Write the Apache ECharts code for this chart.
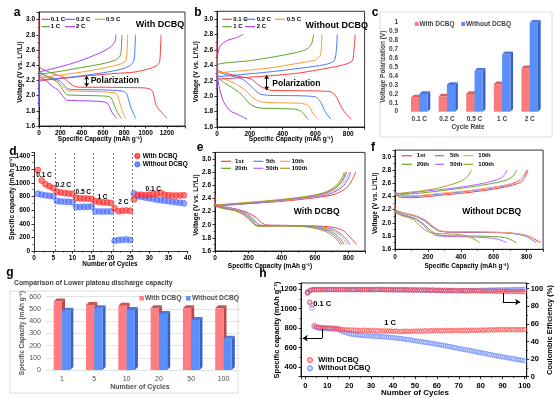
<!DOCTYPE html>
<html><head><meta charset="utf-8">
<script src="https://cdn.jsdelivr.net/npm/echarts@6/dist/echarts.min.js"></script>
<style>html,body{margin:0;padding:0;background:#fff}#c{width:554px;height:398px}</style>
</head><body><div id="c"></div><script>
// ---------- DATA ----------
const rateNames = ['0.1 C','0.2 C','0.5 C','1 C','2 C'];
const cycNames = ['1st','5th','10th','20th','50th','100th'];
// panel a (With DCBQ) discharge / charge  [capacity, voltage]
const aDis01 = [[0,3.0],[3,2.45],[10,2.37],[60,2.33],[150,2.28],[220,2.25],[260,2.2],[300,2.15],[340,2.12],[400,2.11],[600,2.11],[850,2.105],[1000,2.1],[1050,2.08],[1070,2.04],[1085,1.95],[1100,1.87],[1130,1.81],[1170,1.75],[1200,1.7]];
const aDis02 = [[0,2.3],[50,2.27],[150,2.22],[200,2.19],[240,2.13],[270,2.09],[320,2.08],[600,2.075],[780,2.06],[820,2.03],[840,1.95],[860,1.85],[885,1.77],[906,1.7]];
const aDis05 = [[0,2.27],[60,2.24],[150,2.2],[200,2.16],[240,2.1],[270,2.065],[320,2.06],[600,2.05],[720,2.03],[745,1.97],[765,1.87],[790,1.77],[815,1.7]];
const aDis1 = [[0,2.33],[50,2.27],[150,2.2],[190,2.15],[230,2.06],[265,2.01],[320,2.005],[600,1.995],[670,1.98],[695,1.92],[715,1.84],[745,1.76],[775,1.7]];
const aDis2 = [[0,2.26],[60,2.2],[130,2.12],[180,2.07],[220,2.0],[260,1.94],[320,1.935],[550,1.925],[630,1.91],[660,1.86],[685,1.78],[710,1.73],[734,1.7]];
const aChg01 = [[0,2.19],[100,2.21],[250,2.23],[450,2.26],[700,2.29],[900,2.31],[1050,2.36],[1110,2.4],[1132,2.45],[1140,2.6],[1145,2.8]];
const aChg02 = [[0,1.85],[3,2.2],[50,2.21],[200,2.23],[400,2.26],[600,2.3],[780,2.35],[860,2.4],[890,2.46],[900,2.6],[905,2.8]];
const aChg05 = [[0,2.22],[50,2.24],[200,2.27],[400,2.31],[600,2.36],[750,2.41],[810,2.45],[825,2.55],[832,2.8]];
const aChg1 = [[0,2.28],[50,2.29],[200,2.32],[400,2.37],[600,2.42],[720,2.47],[760,2.52],[772,2.6],[778,2.8]];
const aChg2 = [[0,1.85],[3,2.3],[60,2.33],[200,2.38],[350,2.44],[500,2.52],[600,2.58],[680,2.65],[715,2.72],[722,2.8]];
// panel b (Without DCBQ)
const bDis01 = [[0,2.7],[3,2.35],[50,2.3],[150,2.25],[210,2.22],[250,2.15],[290,2.1],[330,2.075],[500,2.07],[650,2.065],[700,2.05],[730,1.98],[760,1.85],[790,1.76],[817,1.7]];
const bDis02 = [[0,2.32],[50,2.28],[130,2.24],[170,2.2],[220,2.1],[260,2.03],[320,2.01],[500,2.005],[600,1.99],[630,1.93],[660,1.8],[680,1.74],[696,1.7]];
const bDis05 = [[0,2.28],[50,2.22],[120,2.15],[170,2.08],[220,1.98],[260,1.93],[350,1.915],[520,1.905],[560,1.87],[585,1.78],[614,1.7]];
const bDis1 = [[0,2.25],[40,2.18],[100,2.1],[150,2.02],[200,1.9],[250,1.85],[350,1.84],[480,1.83],[515,1.8],[540,1.74],[557,1.7]];
const bDis2 = [[0,2.3],[15,2.1],[40,1.93],[80,1.81],[130,1.76],[184,1.7]];
const bChg01 = [[0,2.22],[150,2.24],[300,2.26],[500,2.3],[665,2.36],[780,2.41],[825,2.46],[835,2.6],[843,2.8]];
const bChg02 = [[0,2.25],[100,2.27],[300,2.31],[500,2.36],[660,2.41],[715,2.46],[728,2.6],[733,2.8]];
const bChg05 = [[0,2.3],[100,2.32],[300,2.36],[450,2.41],[600,2.47],[630,2.53],[637,2.65],[640,2.8]];
const bChg1 = [[0,2.1],[3,2.4],[50,2.43],[200,2.46],[400,2.53],[540,2.6],[575,2.67],[585,2.75],[590,2.8]];
const bChg2 = [[0,2.1],[5,2.55],[20,2.65],[60,2.72],[120,2.76],[160,2.8]];
// panel c
const cCats = ['0.1 C','0.2 C','0.5 C','1 C','2 C'];
const cWith = [0.16,0.17,0.20,0.31,0.49];
const cWithout = [0.20,0.30,0.46,0.645,1.0];
// panel d
const dCycles = [1,2,3,4,5,6,7,8,9,10,11,12,13,14,15,16,17,18,19,20,21,22,23,24,25,26,27,28,29,30,31,32,33,34,35,36,37,38,39];
const dWith = [1190,1035,980,950,925,870,860,850,845,840,780,775,770,770,765,730,720,715,712,705,625,585,592,595,590,760,825,825,820,825,835,840,850,825,820,815,815,815,818];
const dWithout = [840,828,818,810,805,735,728,725,722,718,645,646,648,650,652,582,580,580,580,580,150,160,165,168,162,845,805,795,785,775,765,752,745,740,732,722,715,708,700];
// panel e (With DCBQ)
const eDis1 = [[0,2.45],[2,2.32],[40,2.28],[120,2.24],[190,2.19],[240,2.12],[280,2.03],[310,1.995],[400,1.99],[550,1.985],[650,1.975],[720,1.955],[770,1.91],[800,1.84],[825,1.77],[850,1.7]];
const eDis5 = [[0,2.31],[40,2.28],[120,2.24],[180,2.19],[225,2.1],[255,2.02],[280,1.99],[400,1.99],[550,1.98],[640,1.965],[710,1.93],[760,1.85],[790,1.77],[810,1.7]];
const eDis10 = [[0,2.3],[40,2.27],[120,2.23],[180,2.18],[222,2.09],[250,2.01],[275,1.985],[400,1.988],[550,1.978],[630,1.96],[700,1.92],[750,1.84],[775,1.77],[794,1.7]];
const eDis20 = [[0,2.29],[40,2.26],[120,2.22],[175,2.17],[218,2.08],[245,2.0],[270,1.98],[400,1.985],[550,1.975],[620,1.955],[690,1.91],[735,1.83],[760,1.76],[775,1.7]];
const eDis50 = [[0,2.29],[40,2.26],[120,2.22],[175,2.16],[215,2.07],[242,1.995],[268,1.978],[400,1.983],[540,1.972],[610,1.95],[680,1.9],[725,1.82],[748,1.76],[762,1.7]];
const eDis100 = [[0,2.28],[40,2.25],[120,2.21],[170,2.15],[212,2.06],[240,1.99],[265,1.975],[400,1.98],[530,1.97],[600,1.945],[670,1.89],[715,1.81],[738,1.75],[752,1.7]];
const eChg1 = [[0,2.28],[100,2.3],[250,2.33],[420,2.36],[600,2.41],[700,2.45],[760,2.51],[800,2.59],[825,2.69],[844,2.8]];
const eChg5 = [[0,2.29],[100,2.31],[250,2.33],[420,2.37],[590,2.42],[680,2.46],[740,2.53],[780,2.62],[802,2.71],[815,2.8]];
const eChg10 = [[0,2.29],[100,2.31],[250,2.34],[420,2.37],[585,2.42],[675,2.47],[732,2.54],[770,2.63],[792,2.72],[805,2.8]];
const eChg20 = [[0,2.3],[100,2.31],[250,2.34],[420,2.38],[575,2.43],[660,2.48],[715,2.55],[752,2.64],[772,2.72],[784,2.8]];
const eChg50 = [[0,2.3],[100,2.31],[250,2.34],[420,2.38],[580,2.43],[665,2.48],[720,2.55],[758,2.64],[778,2.72],[790,2.8]];
const eChg100 = [[0,2.3],[100,2.32],[250,2.35],[420,2.39],[570,2.44],[655,2.49],[708,2.56],[745,2.65],[765,2.73],[776,2.8]];
// panel f (Without DCBQ)
const fDis1 = [[0,2.3],[2,2.2],[40,2.16],[120,2.11],[180,2.04],[230,1.94],[270,1.88],[320,1.86],[500,1.855],[700,1.845],[780,1.82],[830,1.78],[865,1.73],[887,1.7]];
const fDis5 = [[0,2.18],[40,2.15],[120,2.1],[180,2.03],[230,1.93],[270,1.875],[320,1.865],[500,1.86],[680,1.85],[760,1.82],[810,1.78],[840,1.73],[857,1.7]];
const fDis10 = [[0,2.2],[40,2.16],[120,2.11],[180,2.05],[230,1.95],[270,1.885],[320,1.87],[500,1.865],[700,1.85],[780,1.82],[830,1.78],[855,1.73],[871,1.7]];
const fDis20 = [[0,2.17],[40,2.13],[120,2.07],[170,1.99],[220,1.88],[260,1.82],[320,1.805],[500,1.8],[620,1.79],[680,1.77],[715,1.73],[739,1.7]];
const fDis50 = [[0,2.16],[40,2.12],[120,2.06],[165,1.98],[210,1.87],[250,1.81],[320,1.795],[480,1.785],[580,1.77],[630,1.75],[660,1.72],[678,1.7]];
const fDis100 = [[0,2.15],[40,2.11],[110,2.05],[150,1.96],[190,1.88],[230,1.845],[300,1.835],[400,1.82],[450,1.79],[490,1.74],[516,1.7]];
const fChg1 = [[0,2.43],[30,2.39],[100,2.38],[250,2.41],[450,2.46],[600,2.51],[700,2.56],[760,2.61],[790,2.69],[808,2.8]];
const fChg5 = [[0,2.44],[30,2.41],[100,2.4],[250,2.43],[450,2.48],[600,2.53],[700,2.58],[755,2.64],[782,2.71],[800,2.8]];
const fChg10 = [[0,2.44],[30,2.41],[100,2.41],[250,2.44],[450,2.49],[600,2.54],[700,2.59],[760,2.65],[788,2.72],[805,2.8]];
const fChg20 = [[0,2.45],[40,2.43],[150,2.45],[300,2.49],[450,2.54],[600,2.6],[680,2.65],[718,2.71],[740,2.8]];
const fChg50 = [[0,2.46],[40,2.44],[150,2.47],[300,2.51],[450,2.56],[560,2.61],[630,2.66],[664,2.72],[682,2.8]];
const fChg100 = [[0,2.43],[40,2.45],[150,2.48],[250,2.52],[330,2.57],[400,2.63],[440,2.7],[466,2.8]];
// panel g
const gCats = ['1','5','10','20','50','100'];
const gWith = [560,533,525,506,506,505];
const gWithout = [484,506,492,459,410,256];
// panel h (cycles 1..100)
const hCapWith = [1165,1070,1040,830,815,810,808,805,805,803,802,800,800,798,795,
 788,785,783,782,780,782,778,780,776,778,775,780,776,774,778,
 772,775,770,774,770,772,768,772,770,766,
 770,768,764,768,766,770,765,768,766,770,
 768,772,767,770,774,770,772,776,771,774,
 776,772,775,778,774,776,773,777,775,778,
 774,776,779,775,778,780,776,779,777,781,
 778,782,779,781,784,780,783,785,782,786,
 783,786,782,785,783,786,782,785,783,786];
const hCapWithout = [1170,1060,1005,815,805,800,798,797,795,794,793,792,790,789,786,
 775,765,758,750,742,738,735,733,730,728,726,724,722,721,719,
 718,716,715,713,712,710,708,706,705,702,
 700,697,694,691,688,685,682,678,675,670,
 667,664,660,657,653,650,646,642,638,634,
 630,626,622,618,614,610,605,600,596,591,
 587,582,578,574,570,565,561,556,551,547,
 543,538,534,529,525,520,516,512,508,504,
 500,496,492,488,484,480,476,472,469,465];
const hCEWith = [95,97.5,98.5,99,98.8,99,98.7,99.1,98.9,99,
 98.8,99.1,98.9,99,98.7,99,98.8,99.1,98.6,99,
 98.8,99,98.7,99.1,98.9,98.6,99,98.8,99.1,98.7,
 99,98.6,98.9,99.1,98.7,98.9,98.5,99,98.8,98.6,
 98.9,98.7,98.4,98.9,98.6,98.8,98.5,98.9,98.3,98.7,
 98.5,98.8,98.2,98.6,98.4,98.7,98.1,98.5,98.3,97.9,
 98.4,98.1,97.8,98.3,97.9,98.2,97.7,98.1,97.8,97.5,
 98,97.6,97.9,97.4,97.8,97.3,97.7,97.5,97.2,97.6,
 97.3,97.1,97.5,97.2,96.9,97.4,97,96.8,97.2,96.9,
 96.7,97.1,96.8,96.5,96.9,96.6,96.8,96.4,96.7,96.5];
const hCEWithout = [96,98,98.7,98.9,99,98.8,99.1,98.9,99,98.8,
 99,98.9,99.1,98.8,99,98.9,99.1,98.8,99,98.9,
 99,98.8,99.1,98.9,99,98.7,99.2,98.9,99,98.8,
 99.1,98.8,99.2,98.9,99.3,98.8,99,98.7,98.9,98.6,
 98.8,98.5,98.9,98.6,98.4,98.7,98.3,98.6,98.2,98.5,
 98.1,98.4,98,98.3,97.9,98.2,97.8,98.1,97.7,98,
 97.6,97.9,97.5,97.8,97.4,97.7,97.5,97.8,97.4,97.7,
 97.5,97.8,97.6,97.9,97.7,98,97.8,98.1,97.9,98.2,
 98,98.3,98.1,98.4,98.2,98.5,98.4,98.6,98.5,98.7,
 98.6,98.8,98.7,98.9,98.8,99,98.9,99.1,99,99.2];

// ---------- STYLE ----------
const FF = '"Liberation Sans", Arial, sans-serif';
const RED='#ff3b3b', BLUE='#4a78ff', ORANGE='#ff9933', GREEN='#5fa22d', PURPLE='#a33dff';
const rateColors = [RED,BLUE,ORANGE,GREEN,PURPLE];
const cycColors = [RED,'#5b7cff','#ffa066','#6aa52a','#b366ff','#a6a022'];
const plain = v => String(Math.round(v*1000)/1000);

function vAxis(g, min, max, interval, extra) {
  return Object.assign({
    type:'value', gridIndex:g, min:min, max:max, interval:interval,
    axisLine:{show:true, onZero:false, lineStyle:{color:'#000', width:0.8}},
    axisTick:{show:true, inside:false, length:2.5, lineStyle:{color:'#000', width:0.8}},
    minorTick:{show:true, splitNumber:2, length:1.5, lineStyle:{color:'#000', width:0.6}},
    splitLine:{show:false},
    axisLabel:{fontSize:6.5, fontWeight:'bold', color:'#000', margin:4, fontFamily:FF, showMaxLabel:false, formatter:plain}
  }, extra || {});
}
const volt = {axisLabel:{fontSize:6.5, fontWeight:'bold', color:'#000', margin:4, fontFamily:FF, showMaxLabel:false, formatter:v=>v.toFixed(1)}};

function curve(data, color, g) {
  return {type:'line', xAxisIndex:g, yAxisIndex:g, data:data, symbol:'none', smooth:0.25,
    lineStyle:{color:color, width:1}, silent:true, animation:false, z:3};
}

function bar3d(left, front, side, top, wRatio, depth) {
  return function(params, api) {
    const cat = api.value(0), v = api.value(1);
    const t = api.coord([cat, v]), b = api.coord([cat, 0]);
    const fw = api.size([1,0])[0] * wRatio;
    const x1 = left ? t[0]-fw : t[0], x2 = left ? t[0] : t[0]+fw;
    const yT = t[1], yB = b[1];
    return {type:'group', children:[
      {type:'polygon', shape:{points:[[x2,yT],[x2+depth,yT-depth],[x2+depth,yB-depth],[x2,yB]]}, style:{fill:side}},
      {type:'polygon', shape:{points:[[x1,yT],[x1+depth,yT-depth],[x2+depth,yT-depth],[x2,yT]]}, style:{fill:top}},
      {type:'rect', shape:{x:x1, y:yT, width:x2-x1, height:yB-yT}, style:{fill:front}}
    ]};
  };
}

function txt(x, y, s, size, o) {
  o = o || {};
  return {type:'text', x:x, y:y, rotation:o.rot||0, silent:true, z:10,
    style:{text:s, font:(o.w||'bold')+' '+size+'px '+FF, fill:o.c||'#000', align:o.a||'center', verticalAlign:'middle'}};
}
function seg(x1, x2, y, c) { return {type:'line', silent:true, z:10, shape:{x1:x1, y1:y, x2:x2, y2:y}, style:{stroke:c, lineWidth:1.2}}; }
function sq(x, y, s, c) { return {type:'rect', silent:true, z:10, shape:{x:x-s/2, y:y-s/2, width:s, height:s}, style:{fill:c}}; }
function circ(x, y, r, f, s) { return {type:'circle', silent:true, z:10, shape:{cx:x, cy:y, r:r}, style:{fill:f, stroke:s, lineWidth:0.8}}; }

const ROT = Math.PI/2;
const graphics = [
  txt(17,13,'a',12), txt(198,13,'b',12), txt(375,13,'c',12), txt(13,152,'d',12),
  txt(200,148,'e',12), txt(373,148,'f',12), txt(10,273,'g',12), txt(263,274,'h',12),
  {type:'rect', silent:true, shape:{x:380, y:12, width:172, height:125}, style:{fill:'none', stroke:'#d6d6d6', lineWidth:0.8}},
  {type:'rect', silent:true, shape:{x:10, y:291, width:228, height:102}, style:{fill:'none', stroke:'#d6d6d6', lineWidth:0.8}},
  txt(20.7,72,'Voltage (V vs. Li\u207a/Li)',6.5,{rot:ROT}),
  txt(100,139.5,'Specific Capacity (mAh g\u207b\u00b9)',6.5),
  txt(160,25,'With DCBQ',9),
  txt(90.7,81,'Polarization',8.5,{a:'left'}),
  txt(196.7,71.7,'Voltage (V vs. Li\u207a/Li)',6.5,{rot:ROT}),
  txt(291,139.5,'Specific Capacity (mAh g\u207b\u00b9)',6.5),
  txt(336.7,26,'Without DCBQ',9),
  txt(272.3,83.3,'Polarization',8.5,{a:'left'}),
  txt(383,66.7,'Voltage Polarization (V)',6.5,{rot:ROT,c:'#404040'}),
  txt(468,127,'Cycle Rate',6.5,{c:'#404040'}),
  sq(416.7,24,4,'#ff7b7b'), txt(419.5,24,'With DCBQ',6.5,{a:'left',c:'#404040'}),
  sq(463.3,24,4,'#5b8ff9'), txt(466,24,'Without DCBQ',6.5,{a:'left',c:'#404040'}),
  txt(12,198.3,'Specific capacity (mAh g\u207b\u00b9)',6.5,{rot:ROT}),
  txt(110,264.7,'Number of Cycles',6.5),
  circ(137.3,156,2.6,'rgba(255,60,60,0.85)','#ff2020'), txt(142.7,156,'With DCBQ',6.5,{a:'left'}),
  circ(137.3,164.3,2.6,'rgba(80,110,255,0.8)','#3f66ff'), txt(142.7,164.3,'Without DCBQ',6.5,{a:'left'}),
  txt(44,175.7,'0.1 C',6.5), txt(63.3,185,'0.2 C',6.5), txt(83.3,192.3,'0.5 C',6.5),
  txt(102.5,197.3,'1 C',6.5), txt(123.3,202,'2 C',6.5), txt(153.3,189.3,'0.1 C',6.5),
  txt(196.7,205,'Voltage (V vs. Li\u207a/Li)',6.5,{rot:ROT}),
  txt(270,266,'Specific Capacity (mAh g\u207b\u00b9)',6.5),
  txt(316.7,211.7,'With DCBQ',8.5),
  txt(375,203.3,'Voltage (V vs. Li\u207a/Li)',6.5,{rot:ROT}),
  txt(466.7,266,'Specific Capacity (mAh g\u207b\u00b9)',6.5),
  txt(491.7,211.7,'Without DCBQ',8.5),
  txt(14,283.3,'Comparison of Lower plateau discharge capacity',6.8,{a:'left',c:'#404040'}),
  txt(22.5,333,'Specific Capacity (mAh g\u207b\u00b9)',6.5,{rot:ROT,c:'#505050'}),
  txt(140,386.7,'Number of Cycles',7,{c:'#505050'}),
  sq(141.7,298.3,4.5,'#ff7c80'), txt(145,298.3,'With DCBQ',6.8,{a:'left',c:'#505050'}),
  sq(188.3,298.3,4.5,'#5b8ff9'), txt(192,298.3,'Without DCBQ',6.8,{a:'left',c:'#505050'}),
  txt(276.7,330,'Specific capacity (mAh g\u207b\u00b9)',7.5,{rot:ROT}),
  txt(550,330,'Coulombic Efficiency (%)',7.5,{rot:ROT}),
  txt(415,393,'Number of Cycles',8),
  txt(313.3,304,'0.1 C',7.5,{a:'left'}), txt(390,323.3,'1 C',7.5),
  circ(310,360,2.5,'rgba(255,60,60,0.35)','#ff3030'), txt(318.3,360,'With DCBQ',7.5,{a:'left'}),
  circ(310,368.3,2.5,'rgba(80,110,255,0.3)','#4a6cff'), txt(318.3,368.3,'Without DCBQ',7.5,{a:'left'})
];
[[41.7,50,50.7,19.3],[65,75,76,19.3],[95,105,106,19.3],[41.7,50,50.7,26.7],[65,75,76,26.7]].forEach((p,i)=>{
  graphics.push(seg(p[0],p[1],p[3],rateColors[i]), txt(p[2],p[3],rateNames[i],6,{a:'left'}));
});
[[222.3,231.7,233.3,19.3],[245,255,256.7,19.3],[275,285,286.7,19.3],[222.3,231.7,233.3,26.7],[245,255,256.7,26.7]].forEach((p,i)=>{
  graphics.push(seg(p[0],p[1],p[3],rateColors[i]), txt(p[2],p[3],rateNames[i],6,{a:'left'}));
});
[[221,231,235,161.3],[253.3,263.3,266,161.3],[280,290,291.7,161.3],[221,231,235,168.3],[253.3,263.3,266,168.3],[280,290,291.7,168.3]].forEach((p,i)=>{
  graphics.push(seg(p[0],p[1],p[3],cycColors[i]), txt(p[2],p[3],cycNames[i],6,{a:'left'}));
});
[[401.7,411.7,416.7,155.7],[435,444,450,155.7],[463.3,473.3,478.3,155.7],[401.7,411.7,416.7,164.3],[435,444,450,164.3],[463.3,473.3,478.3,164.3]].forEach((p,i)=>{
  graphics.push(seg(p[0],p[1],p[3],cycColors[i]), txt(p[2],p[3],cycNames[i],6,{a:'left'}));
});

// ---------- SERIES ----------
const series = [];
[aDis01,aDis02,aDis05,aDis1,aDis2].forEach((d,i)=>series.push(curve(d, rateColors[i], 0)));
[aChg01,aChg02,aChg05,aChg1,aChg2].forEach((d,i)=>series.push(curve(d, rateColors[i], 0)));
[bDis01,bDis02,bDis05,bDis1,bDis2].forEach((d,i)=>series.push(curve(d, rateColors[i], 1)));
[bChg01,bChg02,bChg05,bChg1,bChg2].forEach((d,i)=>series.push(curve(d, rateColors[i], 1)));
[eDis1,eDis5,eDis10,eDis20,eDis50,eDis100].forEach((d,i)=>series.push(curve(d, cycColors[i], 4)));
[eChg1,eChg5,eChg10,eChg20,eChg50,eChg100].forEach((d,i)=>series.push(curve(d, cycColors[i], 4)));
[fDis1,fDis5,fDis10,fDis20,fDis50,fDis100].forEach((d,i)=>series.push(curve(d, cycColors[i], 5)));
[fChg1,fChg5,fChg10,fChg20,fChg50,fChg100].forEach((d,i)=>series.push(curve(d, cycColors[i], 5)));
series.push({type:'lines', coordinateSystem:'cartesian2d', xAxisIndex:0, yAxisIndex:0, symbol:['arrow','arrow'], symbolSize:4, silent:true, z:5,
  lineStyle:{color:'#000', width:1, opacity:1}, data:[{coords:[[447,2.262],[447,2.118]]}]});
series.push({type:'lines', coordinateSystem:'cartesian2d', xAxisIndex:1, yAxisIndex:1, symbol:['arrow','arrow'], symbolSize:4, silent:true, z:5,
  lineStyle:{color:'#000', width:1, opacity:1}, data:[{coords:[[303,2.272],[303,2.078]]}]});
series.push({type:'custom', xAxisIndex:2, yAxisIndex:2, silent:true, renderItem:bar3d(true,'#f97a7a','#c95454','#d96060',0.3,2.7), data:cWith.map((v,i)=>[i,v])});
series.push({type:'custom', xAxisIndex:2, yAxisIndex:2, silent:true, renderItem:bar3d(false,'#5b8ff9','#3a62c4','#4a78e0',0.3,2.7), data:cWithout.map((v,i)=>[i,v])});
series.push({type:'scatter', xAxisIndex:3, yAxisIndex:3, symbolSize:6, silent:true,
  itemStyle:{color:'rgba(80,110,255,0.75)', borderColor:'#3f66ff', borderWidth:0.7},
  data:dCycles.map((c,i)=>[c,dWithout[i]]),
  markLine:{silent:true, symbol:'none', label:{show:false}, lineStyle:{color:'#444', type:[2,2], width:0.7},
    data:[{xAxis:5.5},{xAxis:10.5},{xAxis:15.5},{xAxis:20.5},{xAxis:25.5}]}});
series.push({type:'scatter', xAxisIndex:3, yAxisIndex:3, symbolSize:6, silent:true,
  itemStyle:{color:'rgba(255,60,60,0.8)', borderColor:'#ff2020', borderWidth:0.7},
  data:dCycles.map((c,i)=>[c,dWith[i]])});
series.push({type:'custom', xAxisIndex:6, yAxisIndex:6, silent:true, renderItem:bar3d(true,'#ff7c80','#b84a4a','#c25558',0.257,3), data:gWith.map((v,i)=>[i,v])});
series.push({type:'custom', xAxisIndex:6, yAxisIndex:6, silent:true, renderItem:bar3d(false,'#5b8ff9','#3a62c4','#4a78e0',0.257,3), data:gWithout.map((v,i)=>[i,v])});
const hCycles = hCapWith.map((v,i)=>i+1);
const hSym = (f,s)=>({color:f, borderColor:s, borderWidth:0.7});
series.push({type:'scatter', xAxisIndex:7, yAxisIndex:8, symbolSize:4.5, silent:true, itemStyle:hSym('rgba(110,140,255,0.12)','#5577ff'), data:hCycles.map((c,i)=>[c,hCEWithout[i]])});
series.push({type:'scatter', xAxisIndex:7, yAxisIndex:8, symbolSize:4.5, silent:true, itemStyle:hSym('rgba(255,90,90,0.15)','#ff3a3a'), data:hCycles.map((c,i)=>[c,hCEWith[i]])});
series.push({type:'scatter', xAxisIndex:7, yAxisIndex:7, symbolSize:4.5, silent:true, itemStyle:hSym('rgba(110,140,255,0.12)','#5577ff'), data:hCycles.map((c,i)=>[c,hCapWithout[i]])});
series.push({type:'scatter', xAxisIndex:7, yAxisIndex:7, symbolSize:4.5, silent:true, itemStyle:hSym('rgba(255,90,90,0.15)','#ff3a3a'), data:hCycles.map((c,i)=>[c,hCapWith[i]])});
series.push({type:'lines', coordinateSystem:'cartesian2d', xAxisIndex:7, yAxisIndex:7, symbol:'none', silent:true, z:5,
  lineStyle:{color:'#000', width:1, opacity:1}, data:[{coords:[[7.6,790],[7.6,697]]}]});
series.push({type:'lines', coordinateSystem:'cartesian2d', xAxisIndex:7, yAxisIndex:7, symbol:['none','arrow'], symbolSize:5, silent:true, z:5,
  lineStyle:{color:'#000', width:1, opacity:1}, data:[{coords:[[7.6,697],[-1.2,697]]}]});
series.push({type:'lines', coordinateSystem:'cartesian2d', xAxisIndex:7, yAxisIndex:8, symbol:'none', silent:true, z:5,
  lineStyle:{color:'#000', width:1, opacity:1}, data:[{coords:[[90.1,95],[90.1,84.8]]}]});
series.push({type:'lines', coordinateSystem:'cartesian2d', xAxisIndex:7, yAxisIndex:8, symbol:['none','arrow'], symbolSize:5, silent:true, z:5,
  lineStyle:{color:'#000', width:1, opacity:1}, data:[{coords:[[90.1,84.8],[98,84.8]]}]});

const frame = {show:true, borderColor:'#000', borderWidth:0.8, backgroundColor:'transparent'};
const catLbl = (size, margin)=>({fontSize:size, fontWeight:'bold', color:'#404040', margin:margin, fontFamily:FF});
const hLine = {show:true, onZero:false, lineStyle:{color:'#000', width:0.8}};
const hTick = {show:true, length:2.5, lineStyle:{color:'#000', width:0.8}};
const hMinor = {show:true, splitNumber:2, length:1.5, lineStyle:{color:'#000', width:0.6}};

const option = {
  animation:false,
  backgroundColor:'#fff',
  grid:[
    Object.assign({left:39, top:12, width:146, height:114}, frame),
    Object.assign({left:217, top:11.3, width:147.6, height:115.7}, frame),
    {left:405.5, top:22.7, width:138, height:89},
    {left:34, top:152.3, width:153.7, height:98.7},
    Object.assign({left:215, top:152.4, width:150, height:98.6}, frame),
    Object.assign({left:395, top:150.1, width:148.1, height:99.2}, frame),
    {left:45.85, top:296.7, width:193.8, height:73.3},
    Object.assign({left:301, top:283, width:225.7, height:93.7}, frame)
  ],
  xAxis:[
    vAxis(0,0,1370,200),
    vAxis(1,0,900,200),
    {type:'category', gridIndex:2, data:cCats, axisLine:{show:false}, axisTick:{show:false}, axisLabel:catLbl(6.5,4)},
    vAxis(3,0,40,5,{axisLabel:{fontSize:6.5, fontWeight:'bold', color:'#000', margin:4, fontFamily:FF, formatter:plain}}),
    vAxis(4,0,900,200),
    vAxis(5,0,900,200),
    {type:'category', gridIndex:6, data:gCats, axisLine:{show:false}, axisTick:{show:false}, axisLabel:Object.assign(catLbl(7,6),{fontWeight:'normal',color:'#505050'})},
    {type:'value', gridIndex:7, min:-2, max:101, splitNumber:10, axisLine:hLine, axisTick:hTick, minorTick:hMinor, splitLine:{show:false},
      axisLabel:{fontSize:7.5, fontWeight:'bold', color:'#000', margin:5, fontFamily:FF, showMinLabel:false, showMaxLabel:false, formatter:plain}}
  ],
  yAxis:[
    vAxis(0,1.6,3.1,0.2,volt),
    vAxis(1,1.6,3.1,0.2,volt),
    {type:'value', gridIndex:2, min:0, max:1, interval:0.1, axisLine:{show:false}, axisTick:{show:false}, splitLine:{show:false},
      axisLabel:catLbl(6.5,7.5)},
    vAxis(3,0,1450,200),
    vAxis(4,1.6,3.1,0.2,volt),
    vAxis(5,1.6,3.1,0.2,volt),
    {type:'value', gridIndex:6, min:0, max:600, interval:100, axisLine:{show:false}, axisTick:{show:false},
      splitLine:{show:true, lineStyle:{color:'#dcdcdc', width:0.8}},
      axisLabel:Object.assign(catLbl(7,5),{fontWeight:'normal',color:'#505050'})},
    {type:'value', gridIndex:7, min:300, max:1265, splitNumber:5, axisLine:hLine, axisTick:hTick, minorTick:hMinor, splitLine:{show:false},
      axisLabel:{fontSize:7.5, fontWeight:'bold', color:'#000', margin:4, fontFamily:FF, showMinLabel:false, showMaxLabel:false, formatter:plain}},
    {type:'value', gridIndex:7, position:'right', min:0, max:106.4, interval:20, axisLine:hLine, axisTick:hTick, minorTick:hMinor, splitLine:{show:false},
      axisLabel:{fontSize:7.5, fontWeight:'bold', color:'#000', margin:4, fontFamily:FF, showMaxLabel:false, formatter:plain}}
  ],
  graphic:graphics,
  series:series
};
const chart = echarts.init(document.getElementById('c'), null, {renderer:'canvas', width:554, height:398});
chart.setOption(option);
</script></body></html>
